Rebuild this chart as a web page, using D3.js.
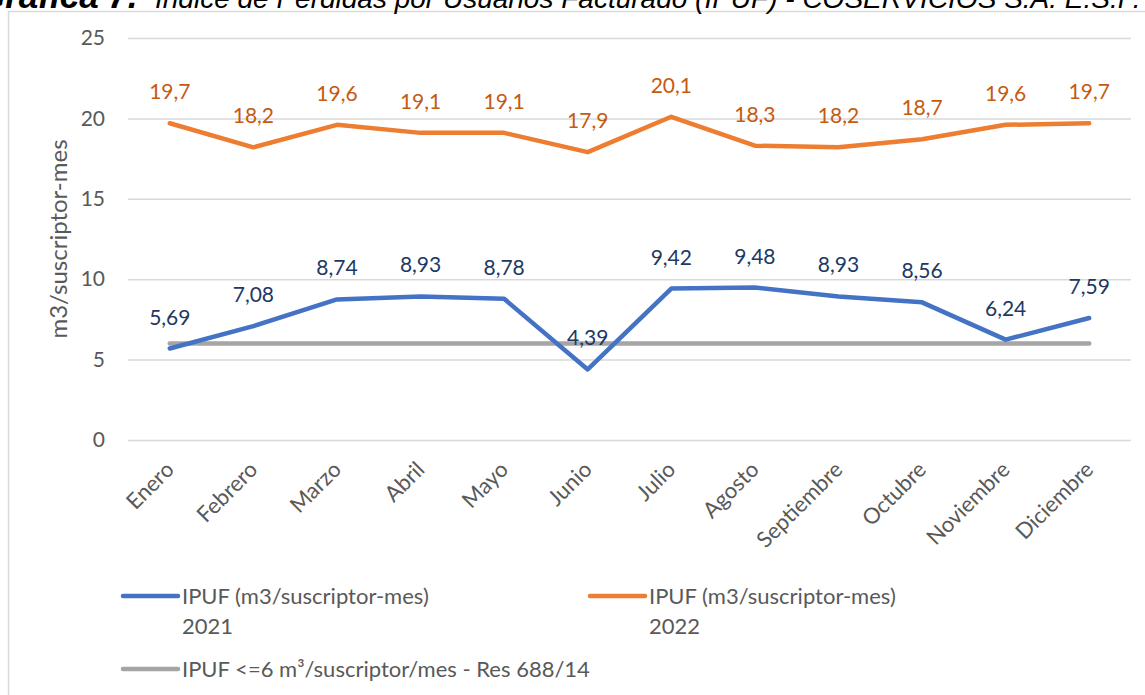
<!DOCTYPE html>
<html><head><meta charset="utf-8">
<script src="https://cdn.jsdelivr.net/npm/d3@7"></script>
<style>body{margin:0;background:#fff;overflow:hidden}svg{display:block}</style>
</head><body>
<svg id="c" width="1145" height="695"></svg>
<script>
const months = ["Enero","Febrero","Marzo","Abril","Mayo","Junio","Julio","Agosto","Septiembre","Octubre","Noviembre","Diciembre"];
const ipuf2021 = [5.69,7.08,8.74,8.93,8.78,4.39,9.42,9.48,8.93,8.56,6.24,7.59];
const ipuf2022 = [19.7,18.2,19.6,19.1,19.1,17.9,20.1,18.3,18.2,18.7,19.6,19.7];
const limite = [6,6,6,6,6,6,6,6,6,6,6,6];
const yTicks = [0,5,10,15,20,25];
const legendLabels = [["IPUF (m3/suscriptor-mes)","2021"],["IPUF (m3/suscriptor-mes)","2022"],["IPUF <=6 m³/suscriptor/mes - Res 688/14"]];
const titleBold = "Gráfica 7.";
const titleRest = "Índice de Pérdidas por Usuarios Facturado (IPUF) - COSERVICIOS S.A. E.S.P.";

const FONT = "Lato, 'Open Sans', sans-serif";
const svg = d3.select("#c");
const x = d3.scalePoint().domain(months).range([128,1131]).padding(0.5);
const y = d3.scaleLinear().domain([0,25]).range([440,38]);

// frame
svg.append("rect").attr("x",8.5).attr("y",11.5).attr("width",1200).attr("height",800)
  .attr("fill","none").attr("stroke","#d9d9d9").attr("stroke-width",1.5);

// title (cut off at top)
const t = svg.append("text").attr("y",8).attr("font-family","'Liberation Sans', Arial, sans-serif")
  .attr("font-size",28).attr("font-style","italic").attr("fill","#000");
t.append("tspan").attr("x",-22).attr("font-weight","bold").attr("font-size",35).text(titleBold);
t.append("tspan").attr("x",155).text(titleRest);

// grid
const yAxis = d3.axisLeft(y).tickValues(yTicks).tickSize(-(1131-128)).tickPadding(23);
const gy = svg.append("g").attr("transform","translate(128,0)").call(yAxis);
gy.select(".domain").remove();
gy.selectAll(".tick line").attr("stroke","#d9d9d9").attr("stroke-width",1.5);
gy.selectAll(".tick text").attr("font-family",FONT).attr("font-size",21).attr("fill","#595959");

// y title
svg.append("text").attr("transform","translate(67,239) rotate(-90)").attr("text-anchor","middle")
  .attr("font-family",FONT).attr("font-size",24).attr("fill","#595959").text("m3/suscriptor-mes");

// x labels
const xAxis = d3.axisBottom(x).tickSize(0).tickPadding(0);
const gx = svg.append("g").attr("transform","translate(0,440)").call(xAxis);
gx.select(".domain").remove();
gx.selectAll(".tick text").attr("font-family",FONT).attr("font-size",22).attr("fill","#595959")
  .attr("text-anchor","end").attr("dy",0).attr("y",0)
  .attr("transform","translate(5,31) rotate(-45)");

const line = d3.line().x((d,i)=>x(months[i])).y(d=>y(d));
const series = [
  {vals: limite, color:"#a5a5a5", lab:null},
  {vals: ipuf2022, color:"#ed7d31", lab:"#c55a11", fmt:d3.format(".1f")},
  {vals: ipuf2021, color:"#4472c4", lab:"#203864", fmt:d3.format(".2f")}
];
series.forEach(s=>{
  svg.append("path").datum(s.vals).attr("d",line).attr("fill","none").attr("stroke",s.color)
    .attr("stroke-width",4.5).attr("stroke-linejoin","round").attr("stroke-linecap","round");
});
series.filter(s=>s.lab).forEach(s=>{
  svg.append("g").selectAll("text").data(s.vals).join("text")
    .attr("x",(d,i)=>x(months[i])).attr("y",d=>y(d)-24).attr("text-anchor","middle")
    .attr("font-family",FONT).attr("font-size",21).attr("fill",s.lab)
    .text(d=>s.fmt(d).replace(".",","));
});

// legend
const leg = [
  {x:123,y:596,color:"#4472c4",lines:legendLabels[0]},
  {x:590,y:596,color:"#ed7d31",lines:legendLabels[1]},
  {x:123,y:669,color:"#a5a5a5",lines:legendLabels[2]}
];
leg.forEach(l=>{
  svg.append("line").attr("x1",l.x).attr("x2",l.x+55).attr("y1",l.y).attr("y2",l.y)
    .attr("stroke",l.color).attr("stroke-width",4.5).attr("stroke-linecap","round");
  const tx = svg.append("text").attr("x",l.x+59).attr("y",l.y+8).attr("font-family",FONT)
    .attr("font-size",22).attr("fill","#595959");
  l.lines.forEach((s,i)=>tx.append("tspan").attr("x",l.x+59).attr("dy",i?30:0).text(s));
});
</script>
</body></html>
